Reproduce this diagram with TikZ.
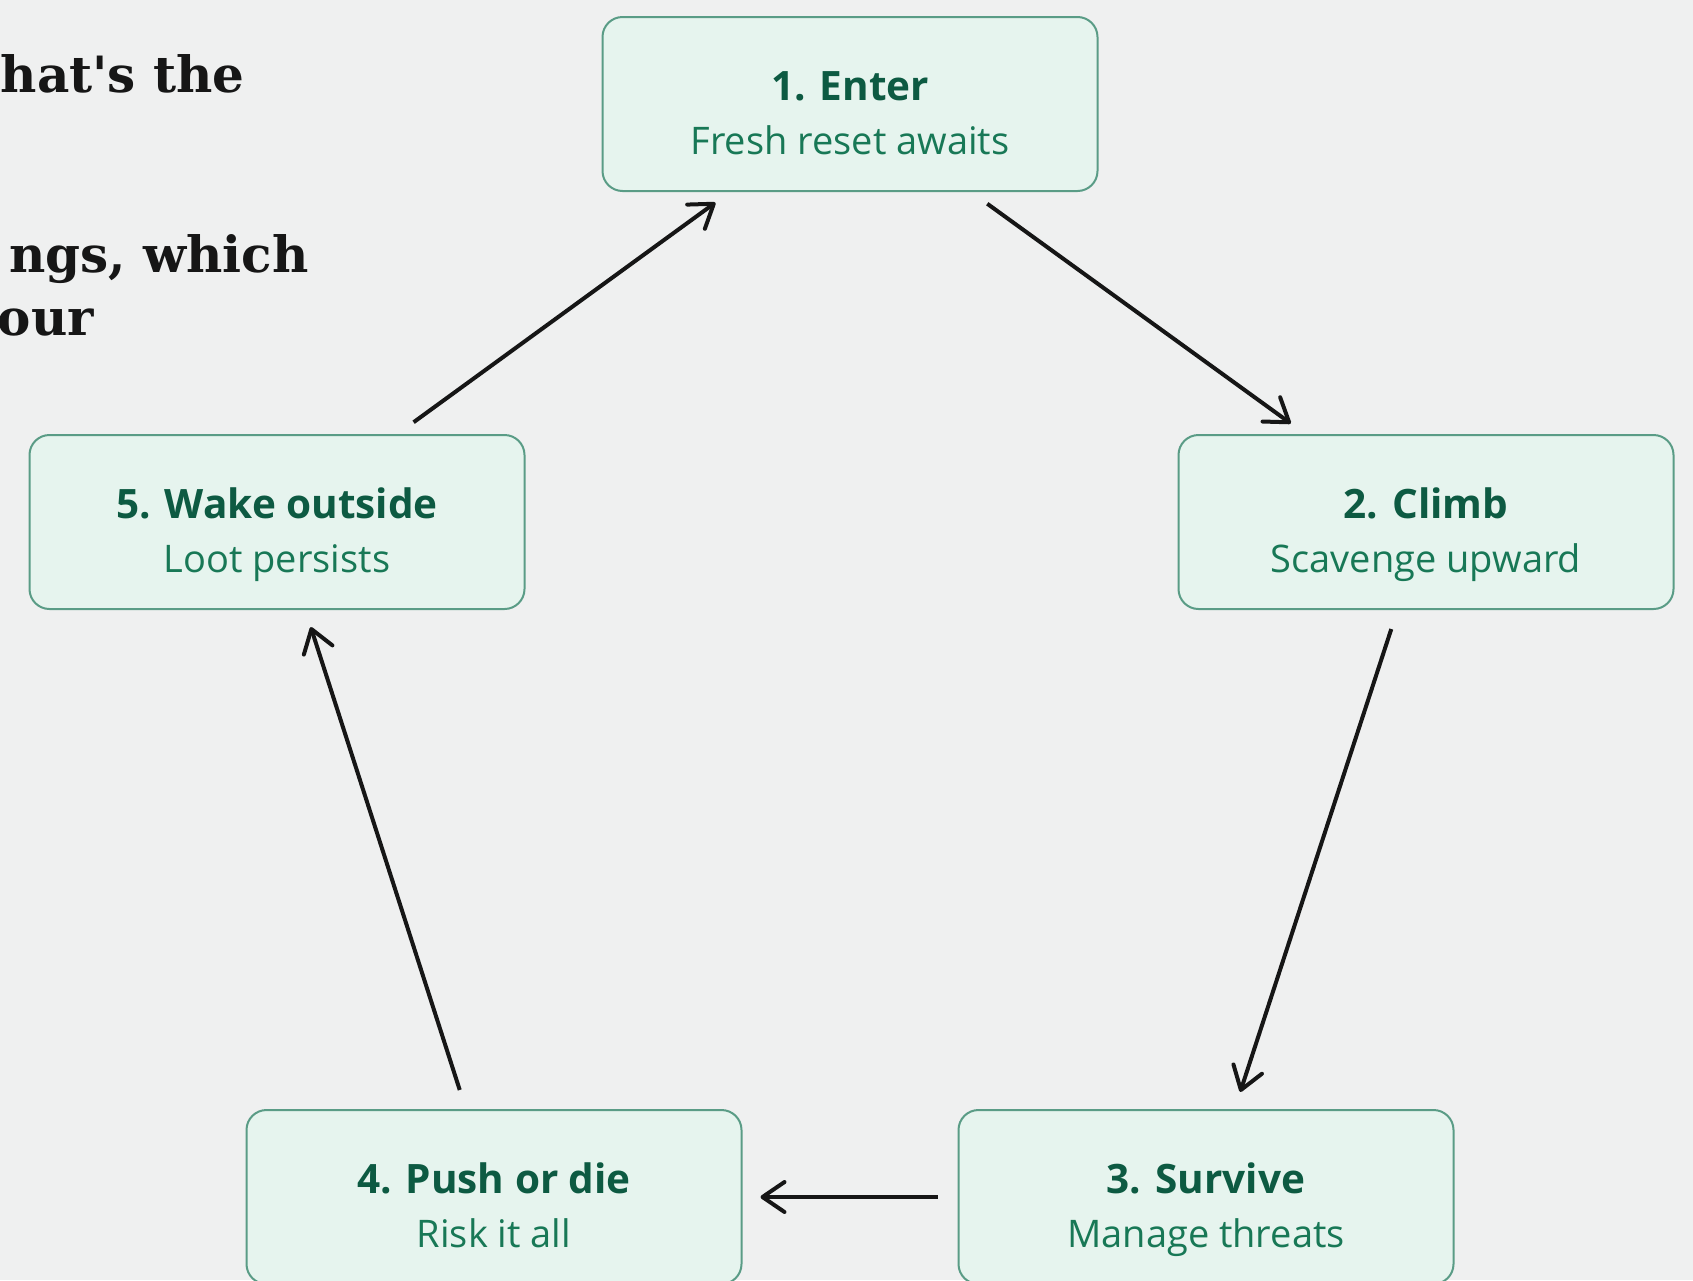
\documentclass[tikz,border=0pt]{standalone}
\usepackage{fontspec}
\setmainfont{Open Sans}
\newfontfamily\typefont{DejaVu Serif}
\usetikzlibrary{arrows.meta}

\definecolor{paper}{HTML}{EFF0F0}
\definecolor{boxfill}{HTML}{E6F4EE}
\definecolor{boxline}{HTML}{5A9C86}
\definecolor{titlegreen}{HTML}{0D5A42}
\definecolor{subgreen}{HTML}{187856}
\definecolor{ink}{HTML}{161616}

\begin{document}
\begin{tikzpicture}[x=1pt,y=-1pt,
    stage/.style={draw=boxline,line width=2pt,fill=boxfill,rounded corners=20pt,minimum width=495pt,minimum height=174pt,inner sep=0pt},
    title/.style={anchor=base,text=titlegreen,font=\fontsize{40.5}{48}\selectfont\bfseries},
    sub/.style={anchor=base,text=subgreen,font=\fontsize{38}{45}\selectfont},
    flow/.style={-{Straight Barb[round,length=22pt,width=30pt]},line width=4pt,draw=ink,shorten <=20pt,shorten >=18pt},
    note/.style={anchor=base east,inner sep=0pt,text=ink,font=\typefont\bfseries\fontsize{50}{58}\selectfont}]
      \useasboundingbox (0,0) rectangle (1693,1280);
      \fill[paper] (0,0) rectangle (1693,1280);

      % text running in from the left edge
      \node[note](line1) at (245,92){hat's the};
      \node[note](line2) at (309,272){ngs, which};
      \node[note](line3) at (94,335){our};

      % the five stages
      \node[stage](enter) at (850,104){};
      \node[title](enter-t) at (850,100){1. Enter};
      \node[sub](enter-s) at (850,154){Fresh reset awaits};

      \node[stage](climb) at (1426,522){};
      \node[title](climb-t) at (1426,518){2. Climb};
      \node[sub](climb-s) at (1426,572){Scavenge upward};

      \node[stage](survive) at (1206,1197){};
      \node[title](survive-t) at (1206,1193){3. Survive};
      \node[sub](survive-s) at (1206,1247){Manage threats};

      \node[stage](push) at (494,1197){};
      \node[title](push-t) at (494,1193){4. Push or die};
      \node[sub](push-s) at (494,1247){Risk it all};

      \node[stage](wake) at (277,522){};
      \node[title](wake-t) at (277,518){5. Wake outside};
      \node[sub](wake-s) at (277,572){Loot persists};

      % the loop
      \draw[flow] (enter) -- (climb);
      \draw[flow] (climb) -- (survive);
      \draw[flow] (survive) -- (push);
      \draw[flow] (push) -- (wake);
      \draw[flow] (wake) -- (enter);
    \end{tikzpicture}
\end{document}
